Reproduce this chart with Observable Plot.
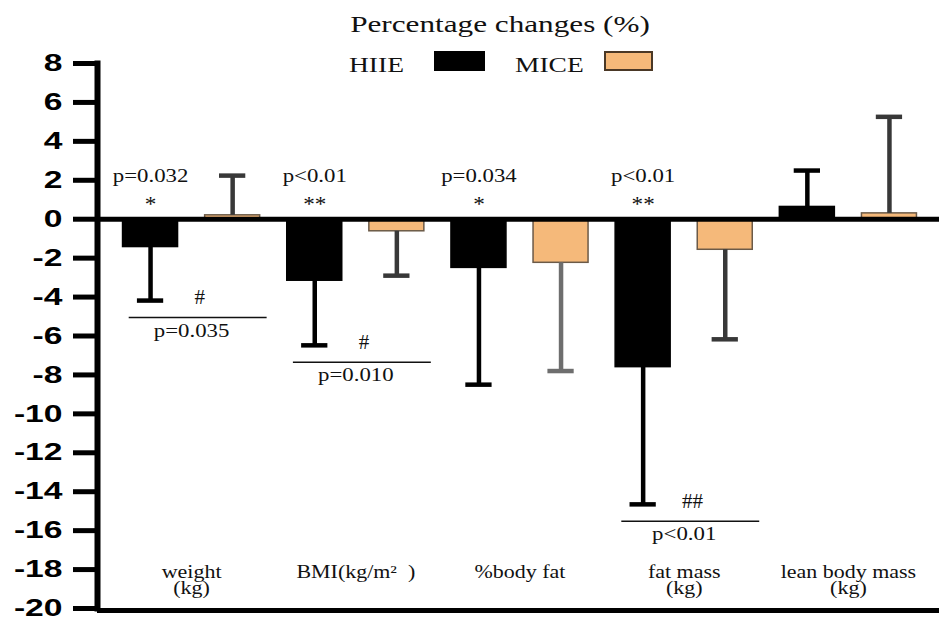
<!DOCTYPE html>
<html>
<head>
<meta charset="utf-8">
<script src="https://cdn.jsdelivr.net/npm/d3@7"></script>
<script src="https://cdn.jsdelivr.net/npm/@observablehq/plot@0.6"></script>
<style>
  html, body { margin: 0; padding: 0; background: #fff; }
  #wrap { position: relative; width: 939px; height: 619px; overflow: hidden; background: #fff; }
  #wrap svg { position: absolute; left: 0; top: 0; z-index: 0; }
  .ov { position: absolute; z-index: 2; }
  .ttl { font-family: "Liberation Serif", serif; color: #111; white-space: nowrap; }
  #title { left: 500px; top: 12px; font-size: 24px; line-height: 24px; transform: translateX(-50%) scaleX(1.3); }
  .leg { top: 54px; font-size: 22px; line-height: 22px; transform-origin: 0 0; transform: scaleX(1.25); }
  .sw { box-sizing: border-box; }
</style>
</head>
<body>
<div id="wrap">
  <div id="title" class="ov ttl">Percentage changes (%)</div>
  <div class="ov ttl leg" style="left:349px">HIIE</div>
  <div class="ov sw" style="left:434px;top:51px;width:51px;height:20px;background:#000;"></div>
  <div class="ov ttl leg" style="left:515px">MICE</div>
  <div class="ov sw" style="left:604px;top:51px;width:49px;height:20px;background:#F5B97A;border:2px solid #4a3826;"></div>
</div>
<script>
// ---- data ----
const categories = ["weight", "BMI(kg/m²  )", "%body fat", "fat mass", "lean body mass"];
const units = ["(kg)", "", "", "(kg)", "(kg)"];
const groups = ["HIIE", "MICE"];
const hiieMean = [-1.43, -3.16, -2.5, -7.6, 0.63];
const hiieSD   = [2.75, 3.32, 6.0, 7.05, 1.87];
const miceMean = [0.2, -0.62, -2.24, -1.57, 0.3];
const miceSD   = [2.04, 2.28, 5.56, 4.6, 4.96];
const withinP     = ["p=0.032", "p<0.01", "p=0.034", "p<0.01", ""];
const withinStars = ["*", "**", "*", "**", ""];
const betweenMarks = ["#", "#", "", "##", ""];
const betweenP     = ["p=0.035", "p=0.010", "", "p<0.01", ""];
const yTicks = [8, 6, 4, 2, 0, -2, -4, -6, -8, -10, -12, -14, -16, -18, -20];

// ---- table built from the arrays ----
const rows = [];
categories.forEach((c, i) => {
  rows.push({cat: c, i, group: groups[0], pos: 2 * i, mean: hiieMean[i], sd: hiieSD[i]});
  rows.push({cat: c, i, group: groups[1], pos: 2 * i + 1, mean: miceMean[i], sd: miceSD[i]});
});
const errEnd = d => d.mean + (d.mean >= 0 ? d.sd : -d.sd);
const errColor = d => d.group === "HIIE" ? "#000" : (d.cat === "%body fat" ? "#6e6e6e" : "#383838");

const idx = categories.map((c, i) => i);
const annot = idx.filter(i => betweenMarks[i] !== "");
const hiieLow = i => hiieMean[i] - hiieSD[i];

const serif = "Liberation Serif";

const chart = Plot.plot({
  width: 939,
  height: 619,
  marginLeft: 97,
  marginRight: 0,
  marginTop: 63,
  marginBottom: 11,
  style: {background: "transparent", color: "#000"},
  x: {domain: [-0.5, 9.5], range: [109, 930], axis: null},
  y: {domain: [-20, 8], axis: null},
  marks: [
    Plot.rectY(rows, {
      x1: d => d.pos - 0.335, x2: d => d.pos + 0.335, y1: 0, y2: "mean",
      fill: d => d.group === "HIIE" ? "#000" : "#F5B97A",
      stroke: d => d.group === "HIIE" ? "#000" : "#6B5A48",
      strokeWidth: 1.5
    }),
    Plot.ruleX(rows, {x: "pos", y1: "mean", y2: errEnd, stroke: errColor, strokeWidth: 4.5}),
    Plot.ruleY(rows, {y: errEnd, x1: d => d.pos - 0.16, x2: d => d.pos + 0.16, stroke: errColor, strokeWidth: 4.5}),
    Plot.ruleY([0], {stroke: "#000", strokeWidth: 5}),
    Plot.ruleY([-20], {stroke: "#000", strokeWidth: 5, dy: 2}),
    Plot.frame({anchor: "left", stroke: "#000", strokeWidth: 6}),
    Plot.axisY({
      ticks: yTicks, tickFormat: d => String(d), tickSize: 24, tickPadding: 11,
      strokeWidth: 5, stroke: "#000", fontSize: 24, fontWeight: "bold",
      fontFamily: "Liberation Sans", fill: "#000", label: null
    }),
    Plot.text(idx.filter(i => withinP[i] !== ""), {
      x: i => 2 * i, y: 0, text: i => withinP[i], dy: -37, lineAnchor: "bottom",
      fontFamily: serif, fontSize: 19, fill: "#111"
    }),
    Plot.text(idx.filter(i => withinStars[i] !== ""), {
      x: i => 2 * i, y: 0, text: i => withinStars[i], dy: -8, lineAnchor: "bottom",
      fontFamily: serif, fontSize: 21, fill: "#111"
    }),
    Plot.ruleY(annot, {
      y: hiieLow, x1: i => 2 * i - 0.26, x2: i => 2 * i + 1.42, dy: 17,
      stroke: "#111", strokeWidth: 1.5
    }),
    Plot.text(annot, {
      x: i => 2 * i + 0.6, y: hiieLow, text: i => betweenMarks[i], dy: -3, lineAnchor: "middle",
      fontFamily: serif, fontSize: 20, fill: "#111"
    }),
    Plot.text(annot, {
      x: i => 2 * i + 0.5, y: hiieLow, text: i => betweenP[i], dy: 36, lineAnchor: "bottom",
      fontFamily: serif, fontSize: 19, fill: "#111"
    }),
    Plot.text(idx, {
      x: i => 2 * i + 0.5, y: -20, text: i => categories[i], dy: -31, lineAnchor: "bottom",
      fontFamily: serif, fontSize: 18, fill: "#111"
    }),
    Plot.text(idx.filter(i => units[i] !== ""), {
      x: i => 2 * i + 0.5, y: -20, text: i => units[i], dy: -15, lineAnchor: "bottom",
      fontFamily: serif, fontSize: 18, fill: "#111"
    })
  ]
});

document.getElementById("wrap").insertBefore(chart, document.getElementById("wrap").firstChild);

// widen the glyphs horizontally, as they appear in the reference
chart.querySelectorAll("text").forEach(t => {
  const cs = getComputedStyle(t);
  const fs = parseFloat(cs.fontSize);
  const bold = cs.fontWeight === "700" || cs.fontWeight === "bold";
  const f = bold ? 1.4 : fs === 18 ? 1.22 : fs === 19 ? 1.2 : fs === 21 ? 1.1 : 1.05;
  const L = t.getComputedTextLength();
  if (L > 0) {
    t.setAttribute("textLength", (L * f).toFixed(1));
    t.setAttribute("lengthAdjust", "spacingAndGlyphs");
  }
});
</script>
</body>
</html>
